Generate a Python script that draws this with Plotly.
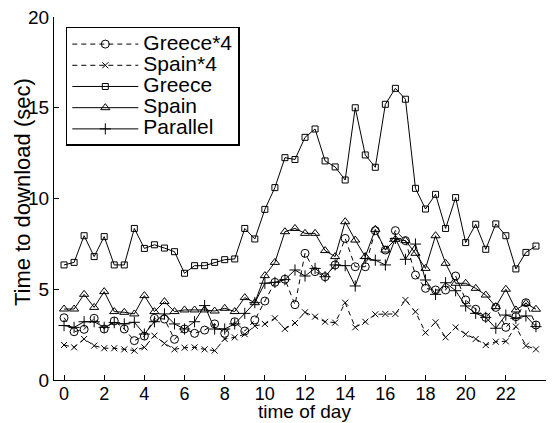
import plotly.graph_objects as go

hours = [h * 0.5 for h in range(48)]

greece4 = [3.43, 2.66, 2.79, 3.40, 2.81, 3.25, 2.81, 2.17, 2.42, 3.40, 3.36, 2.24,
           2.81, 2.57, 2.75, 3.09, 2.57, 3.21, 2.70, 3.31, 4.35, 5.38, 5.55, 4.15,
           6.98, 5.97, 5.69, 6.34, 7.80, 6.24, 6.24, 8.23, 7.16, 8.23, 7.68, 5.78,
           5.05, 4.96, 4.96, 5.73, 4.41, 3.90, 3.45, 4.00, 2.90, 3.49, 4.26, 3.03]

spain4 = [1.93, 1.80, 2.26, 1.89, 1.75, 1.75, 1.69, 1.62, 1.80, 2.44, 2.02, 1.69,
          1.78, 1.80, 1.69, 1.62, 2.26, 2.35, 2.52, 2.98, 3.09, 3.40, 2.82, 3.14,
          3.73, 3.49, 3.21, 3.16, 4.26, 2.90, 3.21, 3.62, 3.64, 3.64, 4.41, 3.76,
          2.61, 3.18, 2.35, 2.90, 2.52, 2.26, 1.93, 2.11, 2.13, 2.94, 1.89, 1.69]

greece = [6.34, 6.48, 7.95, 6.80, 7.90, 6.34, 6.34, 8.35, 7.25, 7.45, 7.27, 7.07,
          5.88, 6.30, 6.30, 6.48, 6.63, 6.67, 8.35, 7.77, 9.40, 10.60, 12.25, 12.15,
          13.37, 13.83, 12.07, 11.74, 11.02, 15.00, 12.40, 11.72, 15.19, 16.07, 15.47, 10.56,
          9.42, 10.23, 8.35, 10.05, 7.57, 8.58, 7.20, 8.60, 7.95, 6.12, 7.03, 7.38]

spain = [3.91, 3.91, 4.72, 4.00, 4.87, 3.77, 3.73, 3.64, 4.65, 3.77, 4.32, 3.77,
         3.86, 3.86, 3.86, 3.80, 3.95, 3.77, 4.54, 4.26, 5.75, 6.48, 8.17, 8.35,
         8.08, 8.08, 7.13, 6.80, 8.72, 7.71, 6.80, 8.30, 7.16, 7.75, 7.68, 6.98,
         6.15, 7.95, 6.43, 5.33, 5.33, 5.05, 4.68, 4.04, 5.00, 3.86, 4.22, 3.90]

parallel = [3.00, 2.90, 3.21, 3.21, 2.90, 3.16, 3.09, 3.18, 2.53, 3.21, 3.64, 3.09,
            2.81, 3.21, 4.10, 2.81, 2.81, 3.09, 3.67, 4.26, 5.33, 5.38, 5.53, 6.06,
            5.73, 6.15, 5.69, 6.34, 6.30, 5.18, 6.70, 6.60, 6.34, 7.80, 6.65, 7.49,
            5.51, 4.72, 5.36, 4.92, 4.08, 3.67, 3.45, 2.85, 3.58, 3.40, 3.53, 2.94]

x_ticks = list(range(0, 23, 2))
y_ticks = [0, 5, 10, 15, 20]
x_title = "time of day"
y_title = "Time to download (sec)"

series = [
    ("Greece*4", greece4, "5px,4px", "circle-open", 8),
    ("Spain*4", spain4, "5px,4px", "x-thin-open", 6),
    ("Greece", greece, "solid", "square-open", 6),
    ("Spain", spain, "solid", "triangle-up-open", 8),
    ("Parallel", parallel, "solid", "cross-thin-open", 8),
]

fig = go.Figure()
for name, vals, dash, sym, size in series:
    fig.add_trace(go.Scatter(
        x=hours, y=vals, mode="lines+markers",
        name='<span style="font-size:21px">%s</span>' % name,
        line=dict(color="black", width=1, dash=dash),
        marker=dict(symbol=sym, size=size, color="black",
                    line=dict(color="black", width=1)),
    ))

# page body has an 8px default margin, so the figure is 8px smaller
font = "Liberation Sans, Arial, Helvetica, sans-serif"
fig.update_layout(
    width=547, height=415,
    margin=dict(l=46, r=8.5, t=9, b=43),
    paper_bgcolor="white", plot_bgcolor="white",
    font=dict(family=font, size=18, color="black"),
    showlegend=True,
    legend=dict(
        x=0.024, y=0.9725, xanchor="left", yanchor="top",
        bgcolor="white", bordercolor="black", borderwidth=1.5,
        font=dict(family=font, size=14, color="black"),
        itemwidth=66, tracegroupgap=0,
    ),
    xaxis=dict(
        range=[-0.5, 24], tickmode="array", tickvals=x_ticks,
        ticks="inside", ticklen=5, tickcolor="black", tickwidth=1,
        showline=True, linecolor="black", linewidth=1, mirror=False,
        showgrid=False, zeroline=False, automargin=False,
        tickfont=dict(size=18), ticklabelstandoff=-3,
    ),
    yaxis=dict(
        range=[0, 20], tickmode="array", tickvals=y_ticks,
        ticks="inside", ticklen=5, tickcolor="black", tickwidth=1,
        showline=True, linecolor="black", linewidth=1, mirror=False,
        showgrid=False, zeroline=False, automargin=False,
        tickfont=dict(size=19), ticklabeloverflow="allow",
    ),
    annotations=[
        dict(text=x_title, xref="paper", yref="paper", x=(305 - 54) / 492.5,
             y=(380 - 422.5) / 363, xanchor="center", yanchor="bottom",
             borderpad=0, showarrow=False, font=dict(size=19)),
        dict(text=y_title, xref="paper", yref="paper", x=(22 - 54) / 492.5,
             y=(380 - 192) / 363, xanchor="center", yanchor="middle",
             textangle=-90, showarrow=False, font=dict(size=22)),
    ],
)

fig.write_html("out.html")
